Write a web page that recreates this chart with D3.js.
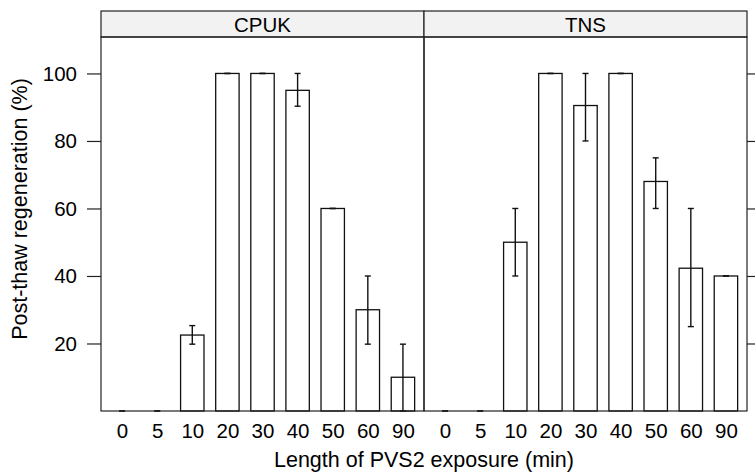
<!DOCTYPE html>
<html>
<head>
<meta charset="utf-8">
<script src="https://cdn.jsdelivr.net/npm/d3@7"></script>
<style>
  body { margin: 0; background: #fff; }
  text { font-family: "Liberation Sans", Arial, sans-serif; fill: #000; }
</style>
</head>
<body>
<div id="chart"></div>
<script>
// exposure times (categories) and the two panels
const times = ['0', '5', '10', '20', '30', '40', '50', '60', '90'];
const panels = ['CPUK', 'TNS'];

// mean regeneration (%) and error bar limits
const cpukMean = [0, 0, 22.5, 100, 100, 95, 60, 30, 10];
const cpukLow  = [0, 0, 19.8, 100, 100, 90.3, 60, 19.8, 0];
const cpukHigh = [0, 0, 25.3, 100, 100, 100, 60, 40, 19.8];
const tnsMean  = [0, 0, 50, 100, 90.5, 100, 68, 42.3, 40];
const tnsLow   = [0, 0, 40, 100, 80, 100, 60, 25, 40];
const tnsHigh  = [0, 0, 60, 100, 100, 100, 75, 60, 40];

const yTicks = [20, 40, 60, 80, 100];

const width = 755, height = 472;
const padLeft = 101, padRight = 747, stripTop = 11, stripH = 26, panelBottom = 411;
const panelW = (padRight - padLeft) / panels.length;
const labelSize = '20.5px', titleSize = '21.5px';

const svg = d3.select('#chart').append('svg')
  .attr('width', width)
  .attr('height', height);

const y = d3.scaleLinear().domain([0, 110.8]).range([panelBottom, stripTop + stripH]);

const series = [
  { mean: cpukMean, low: cpukLow, high: cpukHigh },
  { mean: tnsMean, low: tnsLow, high: tnsHigh }
];

panels.forEach((name, i) => {
  const x0 = padLeft + i * panelW;
  const x = d3.scalePoint().domain(times).range([x0, x0 + panelW]).padding(0.6);
  const barW = x.step() * 2 / 3;
  const s = series[i];
  const g = svg.append('g');

  // strip
  g.append('rect')
    .attr('x', x0).attr('y', stripTop)
    .attr('width', panelW).attr('height', stripH)
    .attr('fill', '#f2f2f2').attr('stroke', '#222').attr('stroke-width', 1.2);
  g.append('text')
    .attr('x', x0 + panelW / 2).attr('y', stripTop + stripH / 2 + 1)
    .attr('dy', '0.36em').attr('text-anchor', 'middle')
    .style('font-size', labelSize)
    .text(name);

  // bars
  g.selectAll('rect.bar')
    .data(times)
    .join('rect')
    .attr('class', 'bar')
    .attr('x', d => x(d) - barW / 2)
    .attr('y', (d, j) => y(s.mean[j]))
    .attr('width', barW)
    .attr('height', (d, j) => y(0) - y(s.mean[j]))
    .attr('fill', '#fff')
    .attr('stroke', '#111')
    .attr('stroke-width', 1.3);

  // error bars
  const eb = g.selectAll('g.err')
    .data(times)
    .join('g')
    .attr('class', 'err')
    .attr('stroke', '#111')
    .attr('stroke-width', 1.4);
  eb.append('line')
    .attr('x1', d => x(d)).attr('x2', d => x(d))
    .attr('y1', (d, j) => y(s.low[j])).attr('y2', (d, j) => y(s.high[j]));
  eb.append('line')
    .attr('x1', d => x(d) - 3).attr('x2', d => x(d) + 3)
    .attr('y1', (d, j) => y(s.low[j])).attr('y2', (d, j) => y(s.low[j]));
  eb.append('line')
    .attr('x1', d => x(d) - 3).attr('x2', d => x(d) + 3)
    .attr('y1', (d, j) => y(s.high[j])).attr('y2', (d, j) => y(s.high[j]));

  // panel frame
  g.append('rect')
    .attr('x', x0).attr('y', stripTop + stripH)
    .attr('width', panelW).attr('height', panelBottom - stripTop - stripH)
    .attr('fill', 'none').attr('stroke', '#222').attr('stroke-width', 1.2);

  // x axis
  const xAxis = g.append('g')
    .attr('transform', `translate(0,${panelBottom})`)
    .call(d3.axisBottom(x).tickSize(0).tickPadding(12));
  xAxis.select('.domain').remove();
  xAxis.selectAll('text').style('font-size', labelSize).attr('fill', '#000');
});

// y axis on the left panel, ticks only on the right panel (lattice style)
const yAxisL = svg.append('g')
  .attr('transform', `translate(${padLeft},0)`)
  .call(d3.axisLeft(y).tickValues(yTicks).tickSize(14).tickPadding(10));
yAxisL.select('.domain').remove();
yAxisL.selectAll('line').attr('stroke', '#222').attr('stroke-width', 1.2);
yAxisL.selectAll('text').style('font-size', labelSize).attr('fill', '#000');

const yAxisR = svg.append('g')
  .attr('transform', `translate(${padRight},0)`)
  .call(d3.axisRight(y).tickValues(yTicks).tickSize(14).tickFormat(''));
yAxisR.select('.domain').remove();
yAxisR.selectAll('line').attr('stroke', '#222').attr('stroke-width', 1.2);

// axis titles
svg.append('text')
  .attr('x', (padLeft + padRight) / 2).attr('y', 467)
  .attr('text-anchor', 'middle')
  .style('font-size', titleSize)
  .text('Length of PVS2 exposure (min)');

svg.append('text')
  .attr('transform', 'translate(27,209) rotate(-90)')
  .attr('text-anchor', 'middle')
  .style('font-size', titleSize)
  .text('Post-thaw regeneration (%)');
</script>
</body>
</html>
